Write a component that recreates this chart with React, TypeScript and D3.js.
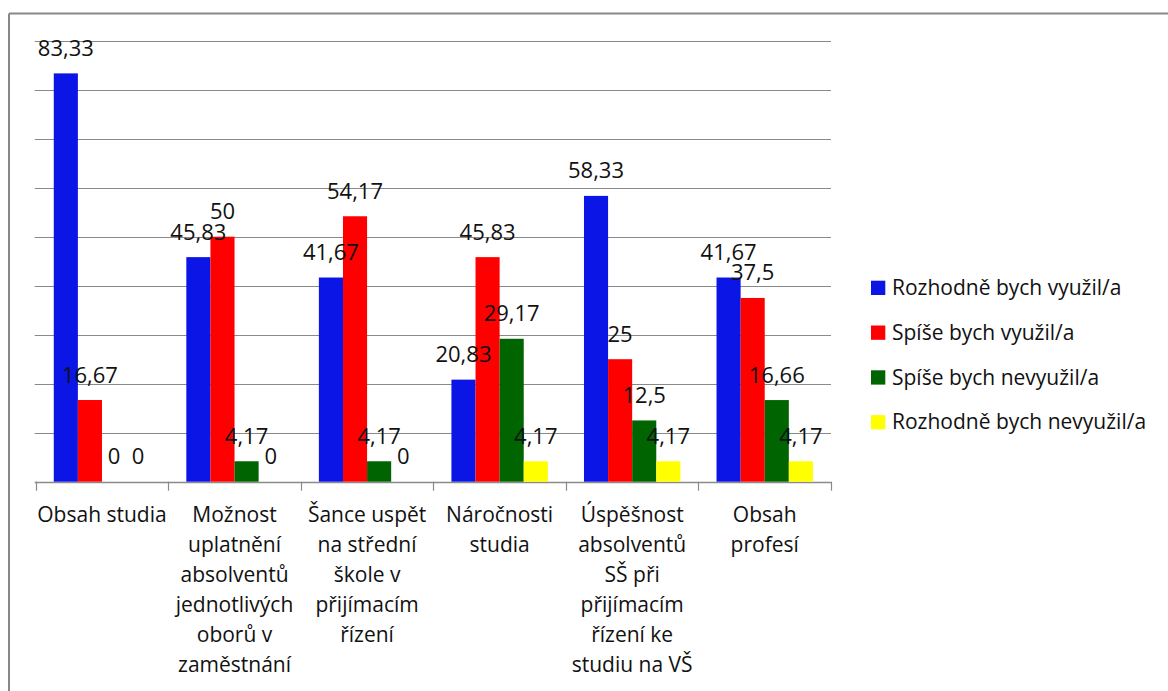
import React from "react";
import * as d3 from "d3";

const categories: string[][] = [
  ["Obsah studia"],
  ["Možnost", "uplatnění", "absolventů", "jednotlivých", "oborů v", "zaměstnání"],
  ["Šance uspět", "na střední", "škole v", "přijímacím", "řízení"],
  ["Náročnosti", "studia"],
  ["Úspěšnost", "absolventů", "SŠ při", "přijímacím", "řízení ke", "studiu na VŠ"],
  ["Obsah", "profesí"],
];

const seriesNames = [
  "Rozhodně bych využil/a",
  "Spíše bych využil/a",
  "Spíše bych nevyužil/a",
  "Rozhodně bych nevyužil/a",
];

const rozhodneVyuzil = [83.33, 45.83, 41.67, 20.83, 58.33, 41.67];
const spiseVyuzil = [16.67, 50, 54.17, 45.83, 25, 37.5];
const spiseNevyuzil = [0, 4.17, 4.17, 29.17, 12.5, 16.66];
const rozhodneNevyuzil = [0, 0, 0, 4.17, 4.17, 4.17];

const seriesValues = [rozhodneVyuzil, spiseVyuzil, spiseNevyuzil, rozhodneNevyuzil];
const seriesColors = ["#0b15e6", "#ff0000", "#006400", "#ffff00"];

const yTicks = [0, 10, 20, 30, 40, 50, 60, 70, 80, 90];

const W = 1168;
const H = 691;
const FONT = "'Open Sans', sans-serif";

export default function App() {
  const plotLeft = 35.7;
  const plotRight = 831;
  const plotTop = 40.7;
  const plotBottom = 481.7;

  const x = d3
    .scaleBand<number>()
    .domain(categories.map((_, i) => i))
    .range([plotLeft, plotRight])
    .paddingInner(0)
    .paddingOuter(0);
  const xs = d3
    .scaleBand<number>()
    .domain(seriesNames.map((_, i) => i))
    .range([0, x.step()])
    .paddingInner(0)
    .paddingOuter(0.75);
  const y = d3.scaleLinear().domain([0, 90]).range([plotBottom, plotTop]);

  const fmt = (v: number) => String(v).replace(".", ",");
  const boundaries = d3.range(categories.length + 1).map((i) => plotLeft + i * x.step());

  return (
    <svg
      width={W}
      height={H}
      style={{ position: "absolute", left: 0, top: 0, background: "#fff" }}
      fontFamily={FONT}
    >
      <rect x={0} y={0} width={W} height={H} fill="#fff" />
      {/* chart border */}
      <line x1={9} x2={W} y1={13.5} y2={13.5} stroke="#878787" strokeWidth={2} />
      <line x1={9} x2={9} y1={13.5} y2={H} stroke="#878787" strokeWidth={2} />

      {/* gridlines */}
      {yTicks.map((t) => (
        <line
          key={t}
          x1={plotLeft - 1}
          x2={plotRight}
          y1={Math.round(y(t)) + 0.5}
          y2={Math.round(y(t)) + 0.5}
          stroke="#8a8a8a"
          strokeWidth={t === 0 ? 1.5 : 1.2}
        />
      ))}
      {/* category tick marks */}
      {boundaries.map((bx, i) => (
        <line
          key={i}
          x1={Math.round(bx) + 0.5}
          x2={Math.round(bx) + 0.5}
          y1={plotBottom}
          y2={plotBottom + 9}
          stroke="#8a8a8a"
          strokeWidth={1.2}
        />
      ))}

      {/* bars */}
      {seriesValues.map((vals, s) =>
        vals.map((v, c) => (
          <rect
            key={`b${s}-${c}`}
            x={(x(c) as number) + (xs(s) as number)}
            y={y(v)}
            width={xs.bandwidth()}
            height={plotBottom - y(v)}
            fill={seriesColors[s]}
          />
        ))
      )}

      {/* value labels */}
      {seriesValues.map((vals, s) =>
        vals.map((v, c) => (
          <text
            key={`l${s}-${c}`}
            x={(x(c) as number) + (xs(s) as number) + xs.bandwidth() / 2}
            y={y(v) - 17.5}
            textAnchor="middle"
            fontSize={22}
            fill="#111"
          >
            {fmt(v)}
          </text>
        ))
      )}

      {/* category labels */}
      {categories.map((lines, c) => (
        <text
          key={`c${c}`}
          x={(x(c) as number) + x.bandwidth() / 2}
          y={521.7}
          textAnchor="middle"
          fontSize={21}
          fill="#111"
        >
          {lines.map((ln, k) => (
            <tspan key={k} x={(x(c) as number) + x.bandwidth() / 2} dy={k === 0 ? 0 : 30}>
              {ln}
            </tspan>
          ))}
        </text>
      ))}

      {/* legend */}
      {seriesNames.map((name, s) => (
        <g key={`lg${s}`} transform={`translate(871, ${295 + s * 44.8})`}>
          <rect x={0} y={-14.3} width={14.3} height={14.3} fill={seriesColors[s]} />
          <text x={21} y={0} fontSize={21} fill="#111">
            {name}
          </text>
        </g>
      ))}
    </svg>
  );
}
